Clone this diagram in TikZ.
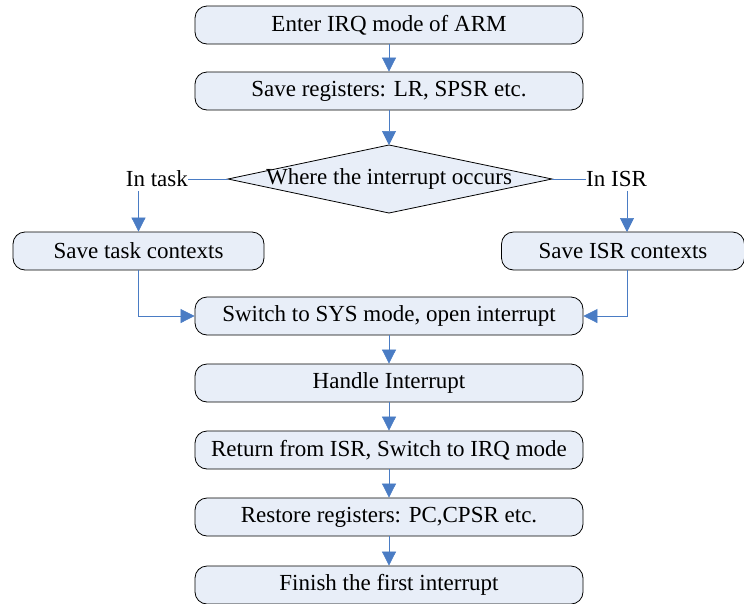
\documentclass[tikz,border=0pt]{standalone}
\usepackage{fontspec}
\setmainfont{Liberation Serif}
\usetikzlibrary{arrows.meta,positioning}
\definecolor{boxfill}{HTML}{E8EEF8}
\definecolor{linkblue}{HTML}{4A7CC4}
\tikzset{
  x=1pt,y=-1pt,
  stepbox/.style={draw=black,line width=0.8pt,fill=boxfill,rounded corners=12pt,
    minimum height=38pt,inner sep=0pt,font=\fontsize{23}{27}\selectfont},
  mainbox/.style={stepbox,minimum width=388pt},
  sidebox/.style={stepbox,minimum width=251pt},
  link/.style={draw=linkblue,line width=0.7pt},
  flow/.style={link,-{Triangle[width=14pt,length=14pt]},linkblue},
  lbl/.style={font=\fontsize{23}{27}\selectfont,inner sep=0pt}
}
\begin{document}
\begin{tikzpicture}
\useasboundingbox (0,0) rectangle (744,603);
% main column
\node[mainbox] (enter)   at (389,25)  {Enter IRQ mode of ARM};
\node[mainbox] (save)    at (389,91)  {Save registers: LR, SPSR etc.};
% decision diamond
\coordinate (dt) at (389,145);
\coordinate (dr) at (552,179);
\coordinate (db) at (389,213);
\coordinate (dl) at (228,179);
\draw[line width=0.8pt,fill=boxfill] (dt) -- (dr) -- (db) -- (dl) -- cycle;
\node[lbl] (where) at (389,179) {Where the interrupt occurs};
\node[lbl,anchor=east] (intask) at (188,179) {In task};
\node[lbl,anchor=west] (inisr)  at (586,179) {In ISR};
% side branches
\node[sidebox] (tctx) at (138.5,251) {Save task contexts};
\node[sidebox,minimum width=243pt] (ictx) at (623,251) {Save ISR contexts};
\node[mainbox] (sys)     at (389,316) {Switch to SYS mode, open interrupt};
\node[mainbox] (handle)  at (389,383) {Handle Interrupt};
\node[mainbox] (ret)     at (389,450) {Return from ISR, Switch to IRQ mode};
\node[mainbox] (restore) at (389,517) {Restore registers: PC,CPSR etc.};
\node[mainbox] (finish)  at (389,585) {Finish the first interrupt};
% connectors
\draw[flow] (enter) -- (save);
\draw[flow] (save) -- (dt);
\draw[link] (dl) -- (intask.east);
\draw[link] (dr) -- (inisr.west);
\draw[flow] (intask.south -| tctx.north) ++(0,4) -- (tctx.north);
\draw[flow] (inisr.south -| 627,0) ++(0,4) -- (627,232);
\draw[flow] (tctx.south) |- (sys.west);
\draw[flow] (627,270) |- (sys.east);
\draw[flow] (sys) -- (handle);
\draw[flow] (handle) -- (ret);
\draw[flow] (ret) -- (restore);
\draw[flow] (restore) -- (finish);
\end{tikzpicture}
\end{document}
